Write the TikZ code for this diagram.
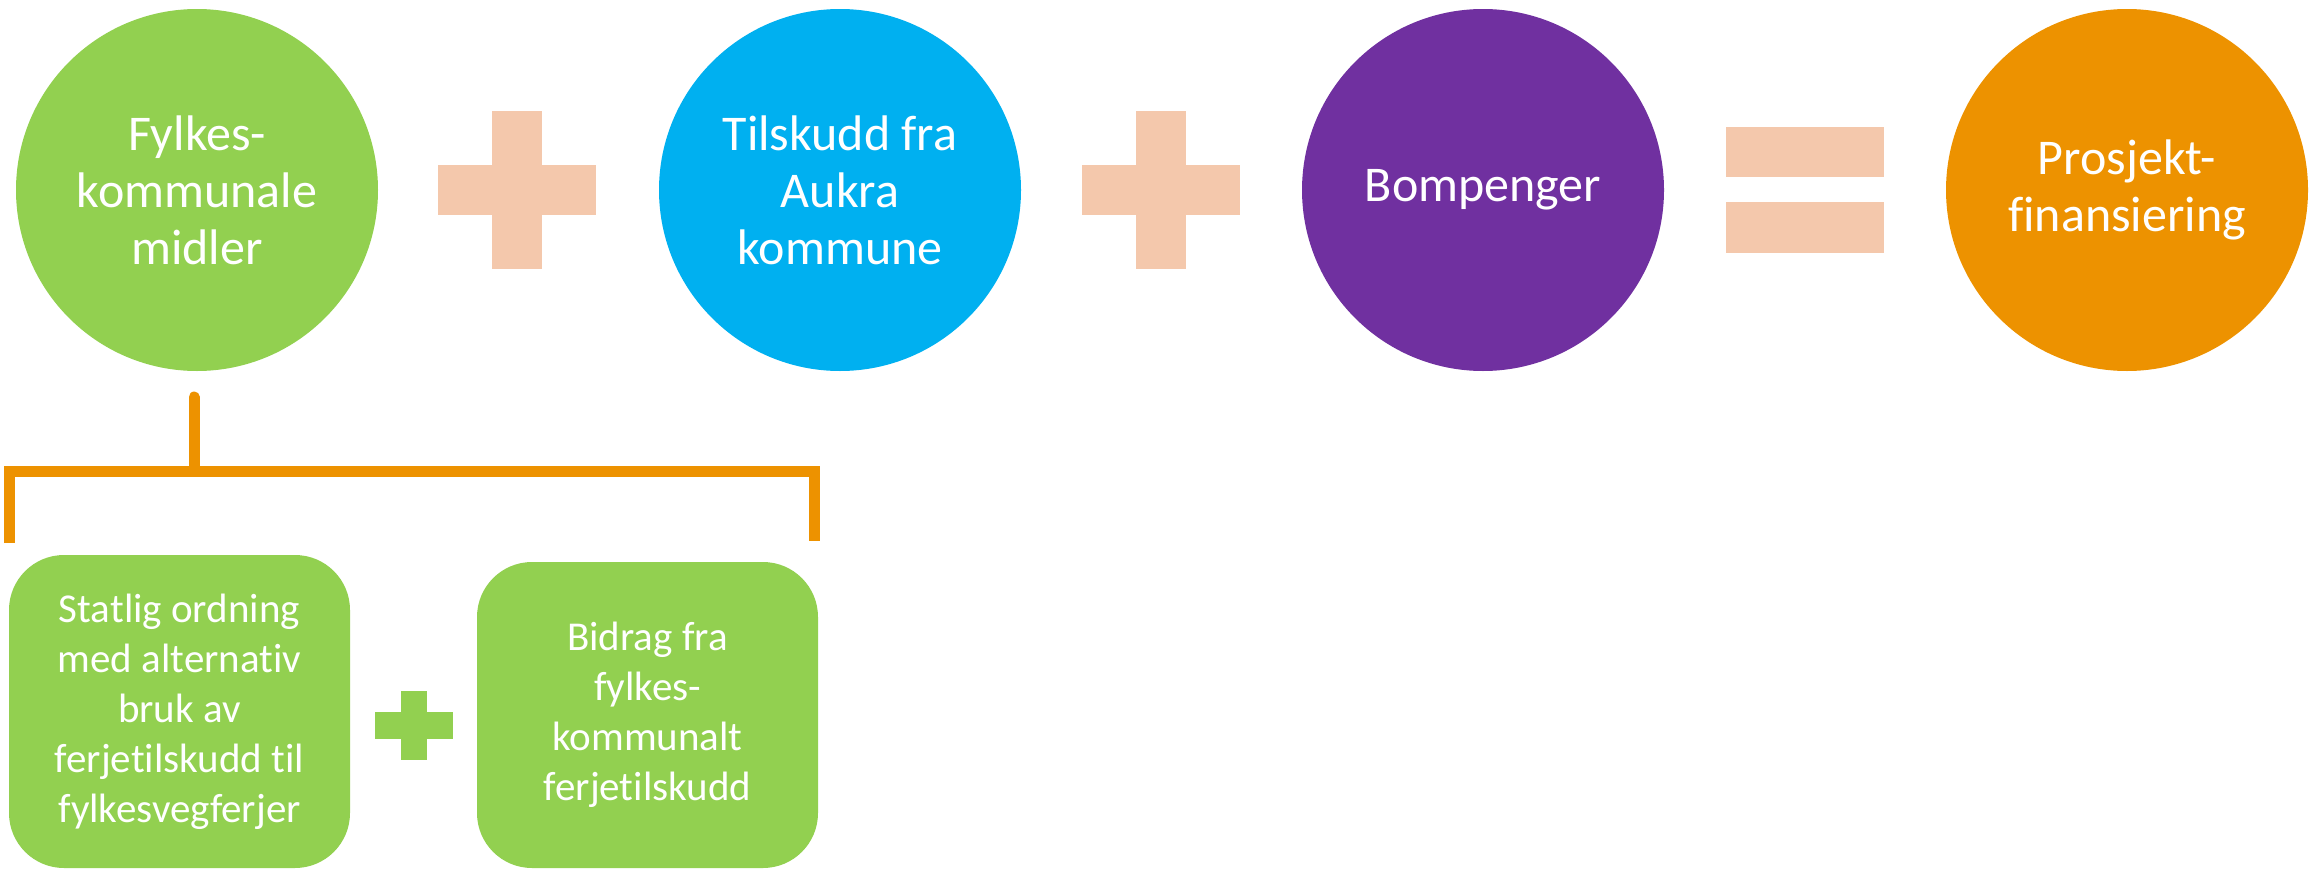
\documentclass[tikz,border=0pt]{standalone}
\usepackage{fontspec}
\setmainfont{Carlito}[RawFeature={-liga}]
\definecolor{cgreen}{HTML}{92D050}
\definecolor{cblue}{HTML}{00B0F0}
\definecolor{cpurple}{HTML}{7030A0}
\definecolor{corange}{HTML}{ED9200}
\definecolor{cpeach}{HTML}{F4C8AC}
\tikzset{
  bigcirc/.style={circle, minimum size=362pt, inner sep=0pt, text=white, align=center,
    font=\fontsize{50}{57}\selectfont},
  subbox/.style={rectangle, rounded corners=55pt, fill=cgreen, text=white, align=center,
    inner sep=0pt, font=\fontsize{41}{50}\selectfont},
  opsign/.style={fill=cpeach},
  bracket/.style={draw=corange, line width=11pt},
}
\begin{document}
\begin{tikzpicture}[x=1pt,y=-1pt]
\useasboundingbox (0,0) rectangle (2320,870);
% circles
\node[bigcirc, fill=cgreen] (c1) at (197,190) {Fylkes-\\kommunale\\midler};
\node[bigcirc, fill=cblue] (c2) at (840,190) {Tilskudd fra\\Aukra\\kommune};
\node[bigcirc, fill=cpurple] (c3) at (1483,190) {Bompenger};
\node[bigcirc, fill=corange] (c4) at (2127,190) {Prosjekt-\\finansiering};
% plus 1
\fill[opsign] (492,111) rectangle (542,269);
\fill[opsign] (438,165) rectangle (596,215);
% plus 2
\fill[opsign] (1136,111) rectangle (1186,269);
\fill[opsign] (1082,165) rectangle (1240,215);
% equals
\fill[opsign] (1726,127) rectangle (1884,177);
\fill[opsign] (1726,202) rectangle (1884,253);
% sub boxes
\node[subbox, minimum width=341pt, minimum height=313pt] (b1) at (179.5,711.5)
  {Statlig ordning\\med alternativ\\bruk av\\ferjetilskudd til\\fylkesvegferjer};
\node[subbox, minimum width=341pt, minimum height=306pt] (b2) at (647.5,715)
  {Bidrag fra\\fylkes-\\kommunalt\\ferjetilskudd};
% small plus
\fill[cgreen] (401,691) rectangle (427,760);
\fill[cgreen] (375,712) rectangle (453,739);
% bracket
\coordinate (stemtop) at (194,397);
\coordinate (stemjoin) at (194,471);
\coordinate (bl) at (9.5,543);
\coordinate (br) at (814.5,541);
\draw[bracket, line cap=round] (stemtop) -- (stemjoin);
\draw[bracket] (bl) |- (stemjoin) -| (br);
\end{tikzpicture}
\end{document}
